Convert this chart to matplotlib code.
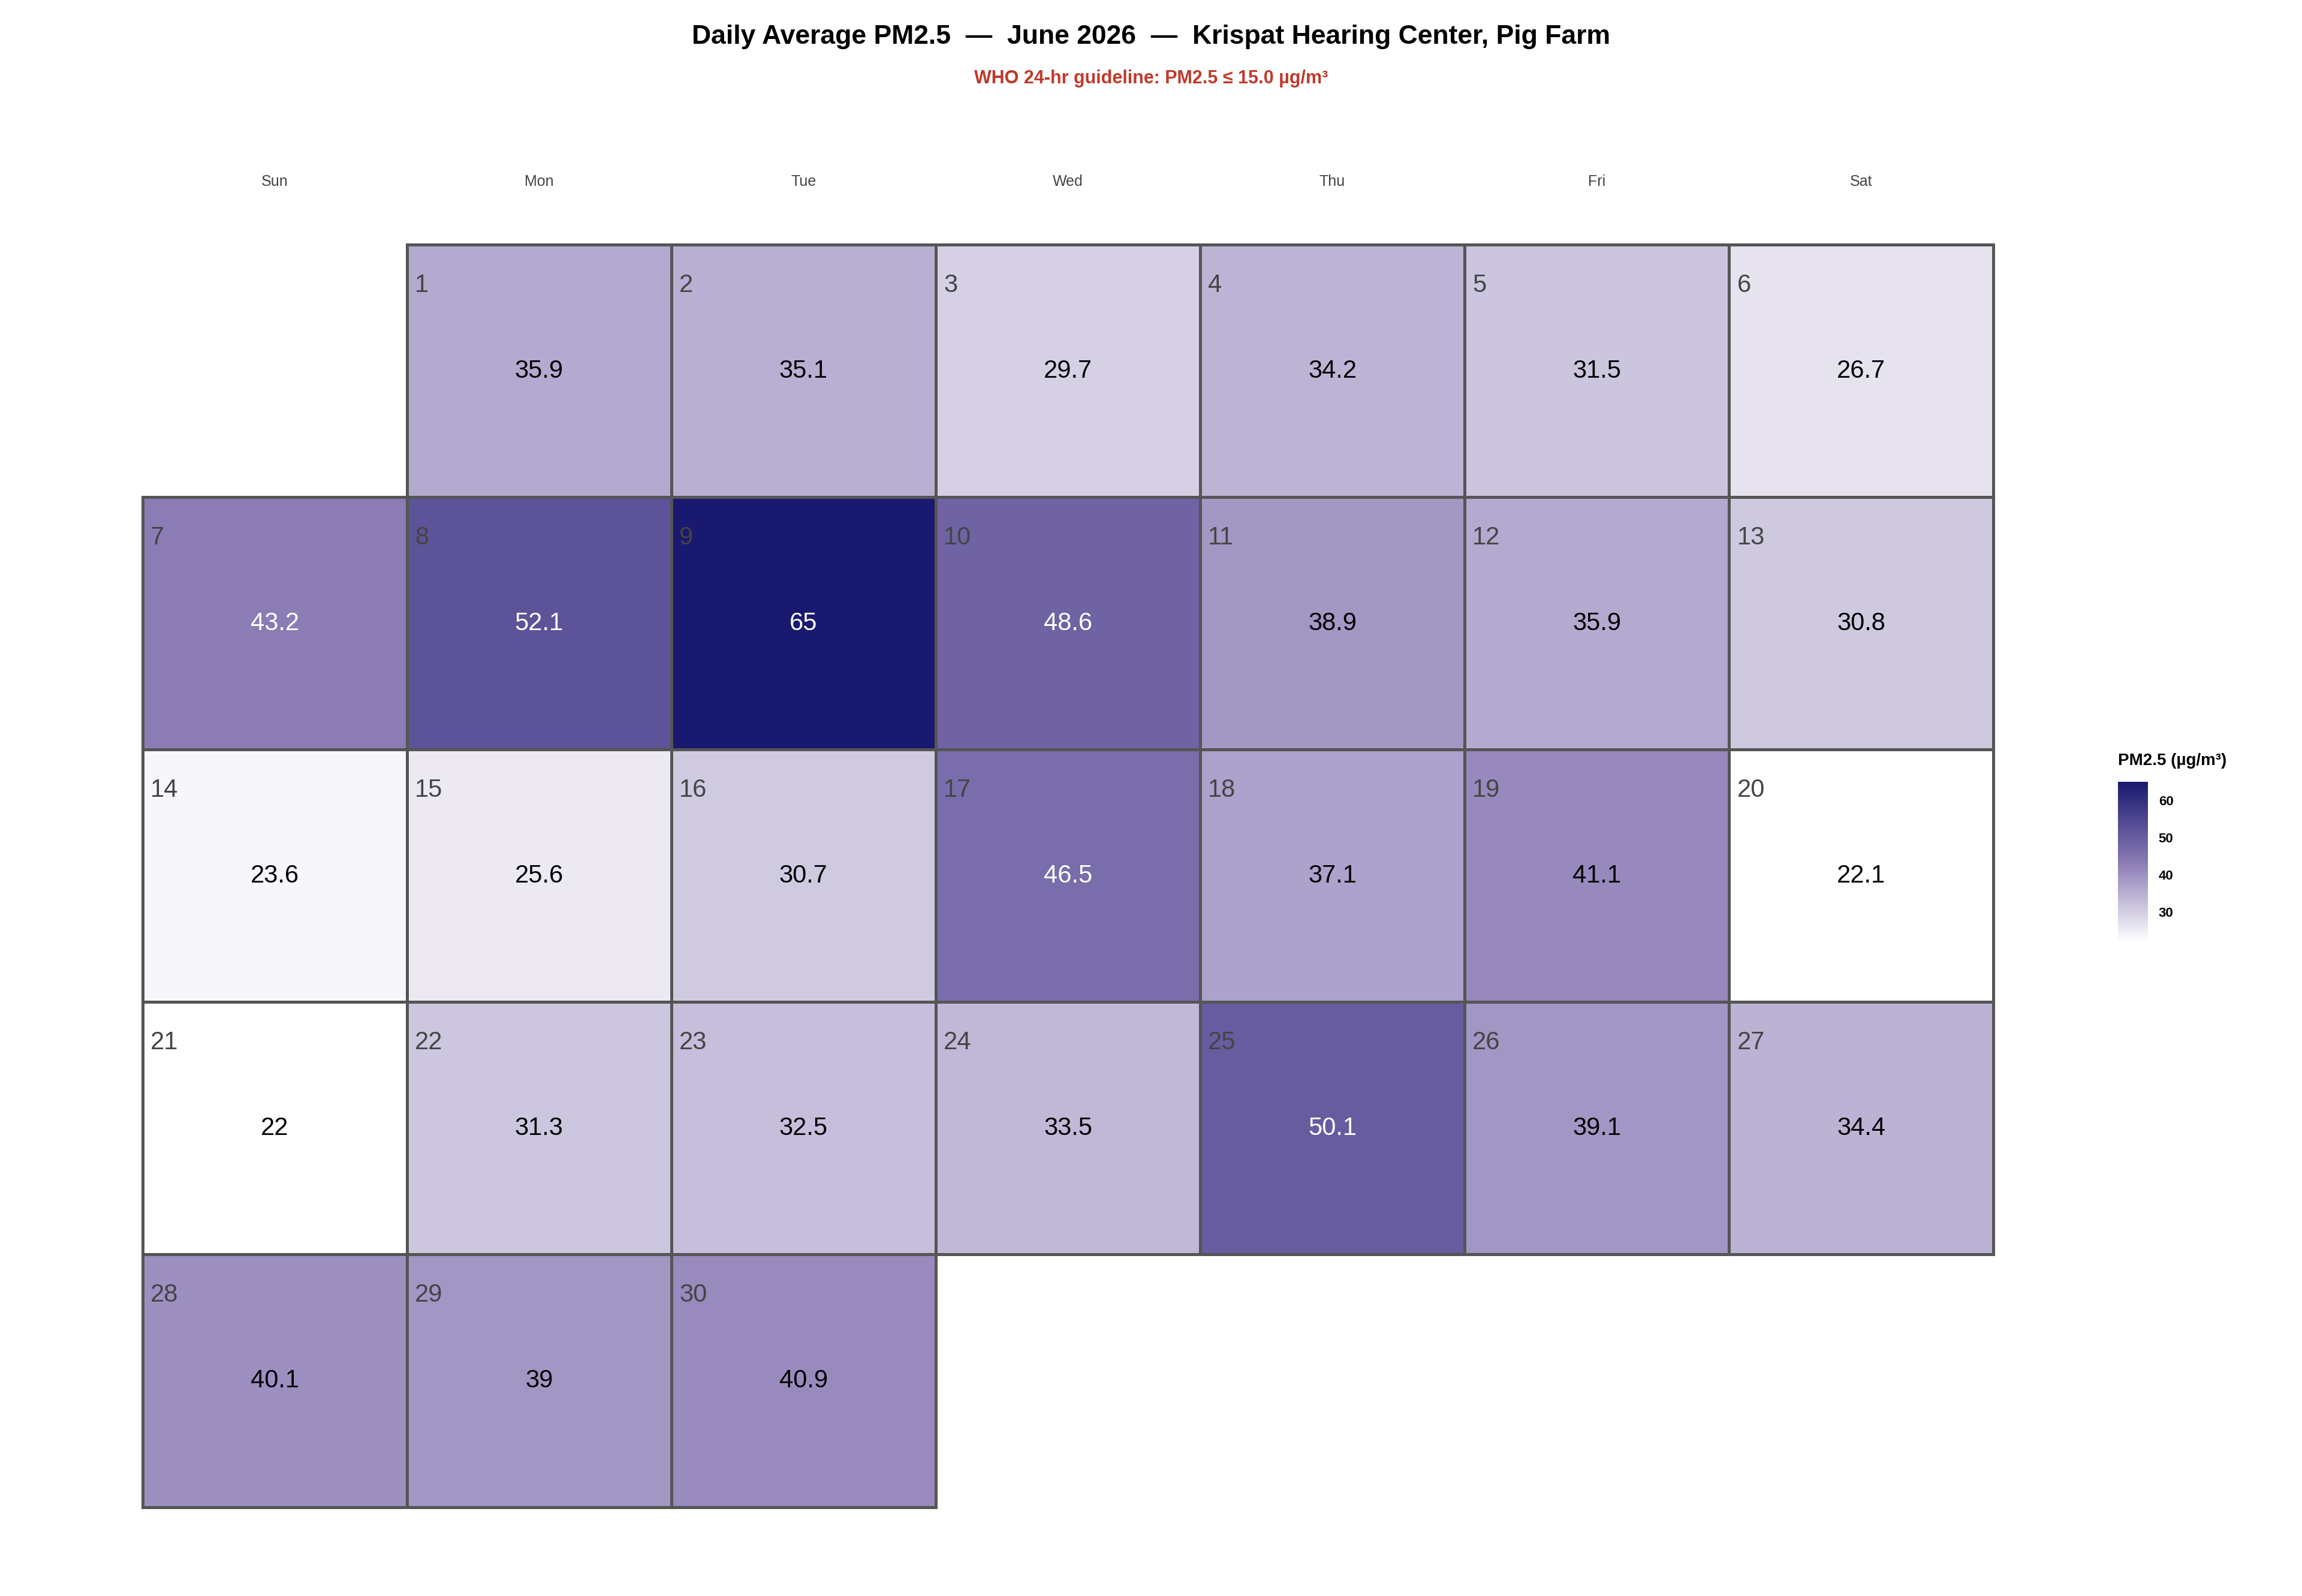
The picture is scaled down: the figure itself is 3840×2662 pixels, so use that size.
import matplotlib
matplotlib.use("Agg")
import matplotlib.pyplot as plt
from matplotlib.colors import LinearSegmentedColormap, Normalize
from matplotlib.patches import Rectangle
import matplotlib.cm as cm

plt.rcParams['font.family'] = ['Liberation Sans', 'DejaVu Sans']

weekdays = ["Sun", "Mon", "Tue", "Wed", "Thu", "Fri", "Sat"]
days = list(range(1, 31))
values = [35.9, 35.1, 29.7, 34.2, 31.5, 26.7,
          43.2, 52.1, 65, 48.6, 38.9, 35.9, 30.8,
          23.6, 25.6, 30.7, 46.5, 37.1, 41.1, 22.1,
          22, 31.3, 32.5, 33.5, 50.1, 39.1, 34.4,
          40.1, 39, 40.9]
first_weekday = 1  # June 1, 2026 is a Monday
cbar_ticks = [30, 40, 50, 60]

W, H = 1552, 1076
fig = plt.figure(figsize=(19.2, 19.2 * H / W), dpi=200)

cmap = LinearSegmentedColormap.from_list("pm", ["#ffffff", "#8a7ab4", "#191970"])
norm = Normalize(vmin=min(values), vmax=max(values))

ax = fig.add_axes([96 / W, 1 - 1016 / H, (1344 - 96) / W, (1016 - 165) / H])
ax.set_xlim(0, 7)
ax.set_ylim(5, 0)
ax.axis("off")

for d, v in zip(days, values):
    idx = d - 1 + first_weekday
    col, row = idx % 7, idx // 7
    ax.add_patch(Rectangle((col, row), 1, 1, facecolor=cmap(norm(v)),
                           edgecolor="#555555", linewidth=1.8, clip_on=False))
    ax.text(col + 0.03, row + 0.16, str(d), ha="left", va="center",
            fontsize=15, color="#444444")
    ax.text(col + 0.5, row + 0.5, f"{v:g}", ha="center", va="center",
            fontsize=15, color="white" if v > 42 else "black")

for i, wd in enumerate(weekdays):
    ax.text(i + 0.5, -0.25, wd, ha="center", va="center", fontsize=9, color="#444444", clip_on=False)

fig.text(0.5, 1 - 25 / H, "Daily Average PM2.5  —  June 2026  —  Krispat Hearing Center, Pig Farm",
         ha="center", va="center", fontsize=16, fontweight="bold")
fig.text(0.5, 1 - 53 / H, "WHO 24-hr guideline: PM2.5 ≤ 15.0 µg/m³",
         ha="center", va="center", fontsize=11, fontweight="bold", color="#c0392b")

cax = fig.add_axes([1428 / W, 1 - 635 / H, 20 / W, (635 - 527) / H])
sm = cm.ScalarMappable(norm=norm, cmap=cmap)
cb = fig.colorbar(sm, cax=cax, ticks=cbar_ticks)
cb.outline.set_visible(False)
cb.ax.tick_params(labelsize=8, length=3, color="white")
for t in cb.ax.get_yticklabels():
    t.set_fontweight("bold")
fig.text(1428 / W, 1 - 513 / H, "PM2.5 (µg/m³)", ha="left", va="center",
         fontsize=10, fontweight="bold")

fig.savefig("out.png", dpi=200, facecolor="white")
